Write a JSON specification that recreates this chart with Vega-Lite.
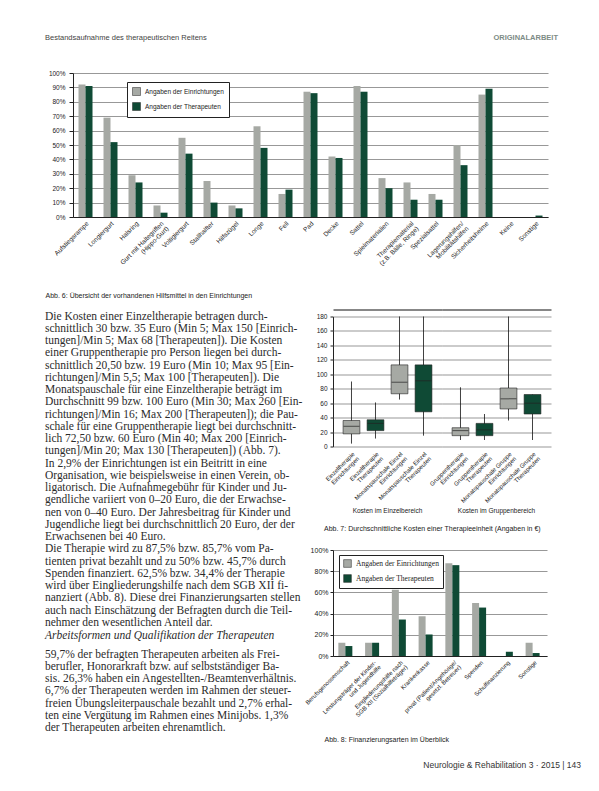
{
  "$schema": "https://vega.github.io/schema/vega-lite/v6.json",
  "padding": {"left": 45, "top": 33, "right": 5, "bottom": 5},
  "background": "#ffffff",
  "config": {
    "view": {"stroke": null},
    "font": "Liberation Sans",
    "axis": {"labelFont": "Liberation Sans", "titleFont": "Liberation Sans"},
    "legend": {"labelFont": "Liberation Sans"},
    "title": {"font": "Liberation Sans"}
  },
  "title": {"text": "Bestandsaufnahme des therapeutischen Reitens", "anchor": "start", "frame": "bounds", "offset": -7.5, "fontSize": 7.5, "fontWeight": "normal", "color": "#444444"},
  "datasets": {
    "hilfsmittel": [
      {"item": "Aufstiegsrampe", "quelle": "Angaben der Einrichtungen", "wert": 92},
      {"item": "Aufstiegsrampe", "quelle": "Angaben der Therapeuten", "wert": 91},
      {"item": "Longiergurt", "quelle": "Angaben der Einrichtungen", "wert": 69},
      {"item": "Longiergurt", "quelle": "Angaben der Therapeuten", "wert": 52},
      {"item": "Halsring", "quelle": "Angaben der Einrichtungen", "wert": 29},
      {"item": "Halsring", "quelle": "Angaben der Therapeuten", "wert": 24},
      {"item": "Gurt mit Haltegriffen|(Hippo-Gurt)", "quelle": "Angaben der Einrichtungen", "wert": 8},
      {"item": "Gurt mit Haltegriffen|(Hippo-Gurt)", "quelle": "Angaben der Therapeuten", "wert": 3},
      {"item": "Voltigiergurt", "quelle": "Angaben der Einrichtungen", "wert": 55},
      {"item": "Voltigiergurt", "quelle": "Angaben der Therapeuten", "wert": 44},
      {"item": "Stallhalfter", "quelle": "Angaben der Einrichtungen", "wert": 25},
      {"item": "Stallhalfter", "quelle": "Angaben der Therapeuten", "wert": 10},
      {"item": "Hilfszügel", "quelle": "Angaben der Einrichtungen", "wert": 8},
      {"item": "Hilfszügel", "quelle": "Angaben der Therapeuten", "wert": 6},
      {"item": "Longe", "quelle": "Angaben der Einrichtungen", "wert": 63},
      {"item": "Longe", "quelle": "Angaben der Therapeuten", "wert": 48},
      {"item": "Fell", "quelle": "Angaben der Einrichtungen", "wert": 16},
      {"item": "Fell", "quelle": "Angaben der Therapeuten", "wert": 19},
      {"item": "Pad", "quelle": "Angaben der Einrichtungen", "wert": 87},
      {"item": "Pad", "quelle": "Angaben der Therapeuten", "wert": 86},
      {"item": "Decke", "quelle": "Angaben der Einrichtungen", "wert": 42},
      {"item": "Decke", "quelle": "Angaben der Therapeuten", "wert": 41},
      {"item": "Sattel", "quelle": "Angaben der Einrichtungen", "wert": 91},
      {"item": "Sattel", "quelle": "Angaben der Therapeuten", "wert": 87},
      {"item": "Spielmaterialien", "quelle": "Angaben der Einrichtungen", "wert": 27},
      {"item": "Spielmaterialien", "quelle": "Angaben der Therapeuten", "wert": 20},
      {"item": "Therapiematerial|(z.B. Bälle, Ringe)", "quelle": "Angaben der Einrichtungen", "wert": 24},
      {"item": "Therapiematerial|(z.B. Bälle, Ringe)", "quelle": "Angaben der Therapeuten", "wert": 12},
      {"item": "Spezialsattel", "quelle": "Angaben der Einrichtungen", "wert": 16},
      {"item": "Spezialsattel", "quelle": "Angaben der Therapeuten", "wert": 12},
      {"item": "Lagerungshilfen/|Mobilitätshilfen", "quelle": "Angaben der Einrichtungen", "wert": 50},
      {"item": "Lagerungshilfen/|Mobilitätshilfen", "quelle": "Angaben der Therapeuten", "wert": 36},
      {"item": "Sicherheitshelme", "quelle": "Angaben der Einrichtungen", "wert": 85},
      {"item": "Sicherheitshelme", "quelle": "Angaben der Therapeuten", "wert": 89},
      {"item": "Keine", "quelle": "Angaben der Einrichtungen", "wert": 0},
      {"item": "Keine", "quelle": "Angaben der Therapeuten", "wert": 0},
      {"item": "Sonstige", "quelle": "Angaben der Einrichtungen", "wert": 0},
      {"item": "Sonstige", "quelle": "Angaben der Therapeuten", "wert": 1}
    ],
    "boxes": [
      {"gruppe": "Kosten im Einzelbereich", "label": "Einzeltherapie|Einrichtungen", "quelle": "Angaben der Einrichtungen", "min": 4, "q1": 17.5, "median": 28, "q3": 36, "max": 90},
      {"gruppe": "Kosten im Einzelbereich", "label": "Einzeltherapie|Therapeuten", "quelle": "Angaben der Therapeuten", "min": 11, "q1": 22, "median": 32, "q3": 37, "max": 61},
      {"gruppe": "Kosten im Einzelbereich", "label": "Monatspauschale Einzel|Einrichtungen", "quelle": "Angaben der Einrichtungen", "min": 65, "q1": 73, "median": 89, "q3": 113, "max": 180},
      {"gruppe": "Kosten im Einzelbereich", "label": "Monatspauschale Einzel|Therapeuten", "quelle": "Angaben der Therapeuten", "min": 15, "q1": 48, "median": 91, "q3": 113, "max": 180},
      {"gruppe": "Kosten im Gruppenbereich", "label": "Gruppentherapie|Einrichtungen", "quelle": "Angaben der Einrichtungen", "min": 9, "q1": 15, "median": 22, "q3": 26, "max": 82},
      {"gruppe": "Kosten im Gruppenbereich", "label": "Gruppentherapie|Therapeuten", "quelle": "Angaben der Therapeuten", "min": 9, "q1": 15, "median": 23, "q3": 32, "max": 45},
      {"gruppe": "Kosten im Gruppenbereich", "label": "Monatspauschale Gruppe|Einrichtungen", "quelle": "Angaben der Einrichtungen", "min": 36, "q1": 52, "median": 66, "q3": 81, "max": 180},
      {"gruppe": "Kosten im Gruppenbereich", "label": "Monatspauschale Gruppe|Therapeuten", "quelle": "Angaben der Therapeuten", "min": 9, "q1": 45, "median": 60, "q3": 72, "max": 72}
    ],
    "finanz": [
      {"art": "Berufsgenossenschaft", "quelle": "Angaben der Einrichtungen", "wert": 12.5},
      {"art": "Berufsgenossenschaft", "quelle": "Angaben der Therapeuten", "wert": 9.4},
      {"art": "Leistungsträger der Kinder-|und Jugendhilfe", "quelle": "Angaben der Einrichtungen", "wert": 12.5},
      {"art": "Leistungsträger der Kinder-|und Jugendhilfe", "quelle": "Angaben der Therapeuten", "wert": 12.5},
      {"art": "Eingliederungshilfe nach|SGB XII (Sozialhilfeträger)", "quelle": "Angaben der Einrichtungen", "wert": 62.5},
      {"art": "Eingliederungshilfe nach|SGB XII (Sozialhilfeträger)", "quelle": "Angaben der Therapeuten", "wert": 34.4},
      {"art": "Krankenkasse", "quelle": "Angaben der Einrichtungen", "wert": 37.5},
      {"art": "Krankenkasse", "quelle": "Angaben der Therapeuten", "wert": 20.3},
      {"art": "privat (Patient/Angehörige/|gesetzl. Betreuer)", "quelle": "Angaben der Einrichtungen", "wert": 87.5},
      {"art": "privat (Patient/Angehörige/|gesetzl. Betreuer)", "quelle": "Angaben der Therapeuten", "wert": 85.7},
      {"art": "Spenden", "quelle": "Angaben der Einrichtungen", "wert": 50},
      {"art": "Spenden", "quelle": "Angaben der Therapeuten", "wert": 45.7},
      {"art": "Schulfinanzierung", "quelle": "Angaben der Einrichtungen", "wert": 0},
      {"art": "Schulfinanzierung", "quelle": "Angaben der Therapeuten", "wert": 4},
      {"art": "Sonstige", "quelle": "Angaben der Einrichtungen", "wert": 12.5},
      {"art": "Sonstige", "quelle": "Angaben der Therapeuten", "wert": 2.8}
    ],
    "text": [
      {"n": 1, "s": "n", "t": "\u2003Die Kosten einer Einzeltherapie betragen durch-"},
      {"n": 2, "s": "n", "t": "schnittlich 30 bzw. 35 Euro (Min 5; Max 150 [Einrich-"},
      {"n": 3, "s": "n", "t": "tungen]/Min 5; Max 68 [Therapeuten]). Die Kosten"},
      {"n": 4, "s": "n", "t": "einer Gruppentherapie pro Person liegen bei durch-"},
      {"n": 5, "s": "n", "t": "schnittlich 20,50 bzw. 19 Euro (Min 10; Max 95 [Ein-"},
      {"n": 6, "s": "n", "t": "richtungen]/Min 5,5; Max 100 [Therapeuten]). Die"},
      {"n": 7, "s": "n", "t": "Monatspauschale für eine Einzeltherapie beträgt im"},
      {"n": 8, "s": "n", "t": "Durchschnitt 99 bzw. 100 Euro (Min 30; Max 260 [Ein-"},
      {"n": 9, "s": "n", "t": "richtungen]/Min 16; Max 200 [Therapeuten]); die Pau-"},
      {"n": 10, "s": "n", "t": "schale für eine Gruppentherapie liegt bei durchschnitt-"},
      {"n": 11, "s": "n", "t": "lich 72,50 bzw. 60 Euro (Min 40; Max 200 [Einrich-"},
      {"n": 12, "s": "n", "t": "tungen]/Min 20; Max 130 [Therapeuten]) (Abb. 7)."},
      {"n": 13, "s": "n", "t": "\u2003In 2,9% der Einrichtungen ist ein Beitritt in eine"},
      {"n": 14, "s": "n", "t": "Organisation, wie beispielsweise in einen Verein, ob-"},
      {"n": 15, "s": "n", "t": "ligatorisch. Die Aufnahmegebühr für Kinder und Ju-"},
      {"n": 16, "s": "n", "t": "gendliche variiert von 0–20 Euro, die der Erwachse-"},
      {"n": 17, "s": "n", "t": "nen von 0–40 Euro. Der Jahresbeitrag für Kinder und"},
      {"n": 18, "s": "n", "t": "Jugendliche liegt bei durchschnittlich 20 Euro, der der"},
      {"n": 19, "s": "n", "t": "Erwachsenen bei 40 Euro."},
      {"n": 20, "s": "n", "t": "\u2003Die Therapie wird zu 87,5% bzw. 85,7% vom Pa-"},
      {"n": 21, "s": "n", "t": "tienten privat bezahlt und zu 50% bzw. 45,7% durch"},
      {"n": 22, "s": "n", "t": "Spenden finanziert. 62,5% bzw. 34,4% der Therapie"},
      {"n": 23, "s": "n", "t": "wird über Eingliederungshilfe nach dem SGB XII fi-"},
      {"n": 24, "s": "n", "t": "nanziert (Abb. 8). Diese drei Finanzierungsarten stellen"},
      {"n": 25, "s": "n", "t": "auch nach Einschätzung der Befragten durch die Teil-"},
      {"n": 26, "s": "n", "t": "nehmer den wesentlichen Anteil dar."},
      {"n": 27.05, "s": "i", "t": "Arbeitsformen und Qualifikation der Therapeuten"},
      {"n": 28.6, "s": "n", "t": "59,7% der befragten Therapeuten arbeiten als Frei-"},
      {"n": 29.6, "s": "n", "t": "berufler, Honorarkraft bzw. auf selbstständiger Ba-"},
      {"n": 30.6, "s": "n", "t": "sis. 26,3% haben ein Angestellten-/Beamtenverhältnis."},
      {"n": 31.6, "s": "n", "t": "6,7% der Therapeuten werden im Rahmen der steuer-"},
      {"n": 32.6, "s": "n", "t": "freien Übungsleiterpauschale bezahlt und 2,7% erhal-"},
      {"n": 33.6, "s": "n", "t": "ten eine Vergütung im Rahmen eines Minijobs. 1,3%"},
      {"n": 34.6, "s": "n", "t": "der Therapeuten arbeiten ehrenamtlich."}
    ]
  },
  "resolve": {"scale": {"color": "independent"}, "legend": {"color": "independent"}},
  "spacing": 11.5,
  "vconcat": [
    {
      "width": 475,
      "height": 144,
      "data": {"name": "hilfsmittel"},
      "title": {"text": "ORIGINALARBEIT", "anchor": "end", "frame": "group", "dx": 10, "offset": 29, "fontSize": 7.5, "fontWeight": "bold", "color": "#7d8c86"},
      "mark": {"type": "bar"},
      "encoding": {
        "x": {
          "field": "item", "type": "nominal", "sort": null,
          "scale": {"paddingInner": 0.44, "paddingOuter": 0.22},
          "axis": {
            "orient": "bottom", "labelAngle": -45, "labelFontSize": 6.5, "labelExpr": "split(datum.label, '|')", "labelLineHeight": 7,
            "ticks": false, "domain": true, "domainColor": "#222222", "labelPadding": 3, "grid": false, "labelColor": "#222222",
            "title": "Abb. 6: Übersicht der vorhandenen Hilfsmittel in den Einrichtungen",
            "titleX": -28, "titleY": 78, "titleAlign": "left", "titleBaseline": "middle", "titleFontSize": 7, "titleFontWeight": "normal", "titleColor": "#222222"
          }
        },
        "xOffset": {"field": "quelle", "type": "nominal", "sort": ["Angaben der Einrichtungen", "Angaben der Therapeuten"]},
        "y": {
          "field": "wert", "type": "quantitative",
          "scale": {"domain": [0, 100], "nice": false},
          "axis": {"values": [0, 10, 20, 30, 40, 50, 60, 70, 80, 90, 100], "labelExpr": "datum.value + '%'", "title": null, "grid": true, "gridColor": "#6b6b6b", "gridWidth": 0.7, "domain": true, "domainColor": "#222222", "tickSize": 4, "tickColor": "#222222", "labelFontSize": 6.5, "labelPadding": 4, "labelColor": "#222222"}
        },
        "color": {
          "field": "quelle", "type": "nominal",
          "scale": {"domain": ["Angaben der Einrichtungen", "Angaben der Therapeuten"], "range": ["#a6a9a4", "#0f4a35"]},
          "legend": {"orient": "none", "legendX": 54, "legendY": 9, "title": null, "strokeColor": "#222222", "fillColor": "#ffffff", "padding": 5, "labelFontSize": 6.5, "symbolType": "square", "symbolSize": 64, "symbolStrokeColor": "#222222", "symbolStrokeWidth": 0.5, "rowPadding": 4, "labelLimit": 200, "direction": "vertical", "labelColor": "#222222"}
        }
      }
    },
    {
      "spacing": 0,
      "resolve": {"scale": {"color": "independent"}, "legend": {"color": "independent"}},
      "hconcat": [
        {
          "width": 214,
          "height": 416.5,
          "data": {"name": "text"},
          "layer": [
            {
              "transform": [{"filter": "datum.s == 'n'"}],
              "mark": {"type": "text", "align": "left", "baseline": "middle", "dx": -28, "font": "Liberation Serif", "fontSize": 11.5, "color": "#2b2b2b"},
              "encoding": {
                "x": {"value": 0},
                "y": {"field": "n", "type": "quantitative", "scale": {"domain": [1, 35], "reverse": true, "nice": false, "zero": false}, "axis": null},
                "text": {"field": "t"}
              }
            },
            {
              "transform": [{"filter": "datum.s == 'i'"}],
              "mark": {"type": "text", "align": "left", "baseline": "middle", "dx": -28, "font": "Liberation Serif", "fontSize": 11.5, "fontStyle": "italic", "color": "#2b2b2b"},
              "encoding": {
                "x": {"value": 0},
                "y": {"field": "n", "type": "quantitative", "axis": null},
                "text": {"field": "t"}
              }
            }
          ]
        },
        {
          "spacing": 13.5,
          "resolve": {"scale": {"color": "independent"}, "legend": {"color": "independent"}},
          "vconcat": [
            {
              "data": {"name": "boxes"},
              "facet": {"column": {"field": "gruppe", "type": "nominal", "sort": ["Kosten im Einzelbereich", "Kosten im Gruppenbereich"], "title": null, "header": {"orient": "bottom", "labelFontSize": 6.5, "labelPadding": 61, "labelColor": "#222222", "labelFont": "Liberation Sans"}}},
              "spacing": 0,
              "bounds": "flush",
              "resolve": {"scale": {"x": "independent"}},
              "title": {"text": "Abb. 7: Durchschnittliche Kosten einer Therapieeinheit (Angaben in €)", "orient": "bottom", "anchor": "start", "frame": "group", "dx": -9, "offset": 11, "fontSize": 7, "fontWeight": "normal", "color": "#222222"},
              "spec": {
                "width": 109,
                "height": 130,
                "layer": [
                  {
                    "mark": {"type": "rule", "color": "#111111", "strokeWidth": 0.8},
                    "encoding": {
                      "x": {"field": "label", "type": "nominal", "sort": null, "scale": {"paddingInner": 0.3, "paddingOuter": 0.42}, "axis": {"orient": "bottom", "title": null, "labelAngle": -45, "labelFontSize": 6, "labelExpr": "split(datum.label, '|')", "labelLineHeight": 6.5, "ticks": false, "domain": false, "labelPadding": 4, "labelColor": "#222222"}},
                      "y": {"field": "min", "type": "quantitative", "scale": {"domain": [0, 180], "nice": false}, "axis": {"values": [0, 20, 40, 60, 80, 100, 120, 140, 160, 180], "title": null, "grid": true, "gridColor": "#6b6b6b", "gridWidth": 0.7, "domain": true, "domainColor": "#222222", "tickSize": 3, "tickColor": "#222222", "labelFontSize": 6.5, "labelPadding": 3, "labelColor": "#222222"}},
                      "y2": {"field": "max"}
                    }
                  },
                  {
                    "mark": {"type": "bar", "stroke": "#222222", "strokeWidth": 0.6},
                    "encoding": {
                      "x": {"field": "label", "type": "nominal", "sort": null, "axis": null},
                      "y": {"field": "q1", "type": "quantitative", "axis": {"values": [0, 20, 40, 60, 80, 100, 120, 140, 160, 180], "title": null, "grid": true, "gridColor": "#6b6b6b", "gridWidth": 0.7, "domain": true, "domainColor": "#222222", "tickSize": 3, "tickColor": "#222222", "labelFontSize": 6.5, "labelPadding": 3, "labelColor": "#222222"}},
                      "y2": {"field": "q3"},
                      "color": {"field": "quelle", "type": "nominal", "scale": {"domain": ["Angaben der Einrichtungen", "Angaben der Therapeuten"], "range": ["#a6a9a4", "#0f4a35"]}, "legend": null}
                    }
                  },
                  {
                    "mark": {"type": "tick", "color": "#222222", "thickness": 1, "size": 16},
                    "encoding": {
                      "x": {"field": "label", "type": "nominal", "sort": null, "axis": null},
                      "y": {"field": "median", "type": "quantitative", "axis": {"values": [0, 20, 40, 60, 80, 100, 120, 140, 160, 180], "title": null, "grid": true, "gridColor": "#6b6b6b", "gridWidth": 0.7, "domain": true, "domainColor": "#222222", "tickSize": 3, "tickColor": "#222222", "labelFontSize": 6.5, "labelPadding": 3, "labelColor": "#222222"}}
                    }
                  },
                  {
                    "mark": {"type": "bar", "opacity": 0},
                    "encoding": {
                      "x": {"field": "label", "type": "nominal", "sort": null, "axis": {"orient": "top", "labels": false, "ticks": false, "grid": false, "domain": true, "domainColor": "#111111", "domainWidth": 1.2, "offset": 7, "title": null}},
                      "y": {"field": "q1", "type": "quantitative", "axis": {"values": [0, 20, 40, 60, 80, 100, 120, 140, 160, 180], "title": null, "grid": true, "gridColor": "#6b6b6b", "gridWidth": 0.7, "domain": true, "domainColor": "#222222", "tickSize": 3, "tickColor": "#222222", "labelFontSize": 6.5, "labelPadding": 3, "labelColor": "#222222"}}
                    }
                  }
                ]
              }
            },
            {
              "width": 214,
              "height": 106,
              "data": {"name": "finanz"},
              "title": {"text": "Neurologie & Rehabilitation 3 · 2015 | 143", "orient": "bottom", "anchor": "end", "frame": "group", "dx": 34, "offset": 18.5, "fontSize": 8.5, "fontWeight": "normal", "color": "#333333"},
              "mark": {"type": "bar"},
              "encoding": {
                "x": {"field": "art", "type": "nominal", "sort": null, "scale": {"paddingInner": 0.4, "paddingOuter": 0.2}, "axis": {"orient": "bottom", "labelAngle": -45, "labelFontSize": 6, "labelExpr": "split(datum.label, '|')", "labelLineHeight": 6.5, "ticks": false, "domain": true, "domainColor": "#222222", "labelPadding": 3, "labelColor": "#222222", "title": "Abb. 8: Finanzierungsarten im Überblick", "titleX": -9, "titleY": 83, "titleAlign": "left", "titleBaseline": "middle", "titleFontSize": 7, "titleFontWeight": "normal", "titleColor": "#222222"}},
                "xOffset": {"field": "quelle", "type": "nominal", "sort": ["Angaben der Einrichtungen", "Angaben der Therapeuten"]},
                "y": {"field": "wert", "type": "quantitative", "scale": {"domain": [0, 100], "nice": false}, "axis": {"values": [0, 20, 40, 60, 80, 100], "labelExpr": "datum.value + '%'", "title": null, "grid": true, "gridColor": "#6b6b6b", "gridWidth": 0.7, "domain": true, "domainColor": "#222222", "tickSize": 3, "tickColor": "#222222", "labelFontSize": 7, "labelPadding": 2, "labelColor": "#222222"}},
                "color": {
                  "field": "quelle", "type": "nominal",
                  "scale": {"domain": ["Angaben der Einrichtungen", "Angaben der Therapeuten"], "range": ["#a6a9a4", "#0f4a35"]},
                  "legend": {"orient": "none", "legendX": 6, "legendY": 5, "title": null, "strokeColor": "#222222", "fillColor": "#ffffff", "padding": 4, "labelFont": "Liberation Serif", "labelFontSize": 7.5, "symbolType": "square", "symbolSize": 60, "symbolStrokeColor": "#222222", "symbolStrokeWidth": 0.5, "rowPadding": 4, "labelLimit": 200, "direction": "vertical", "labelColor": "#222222"}
                }
              }
            }
          ]
        }
      ]
    }
  ]
}
